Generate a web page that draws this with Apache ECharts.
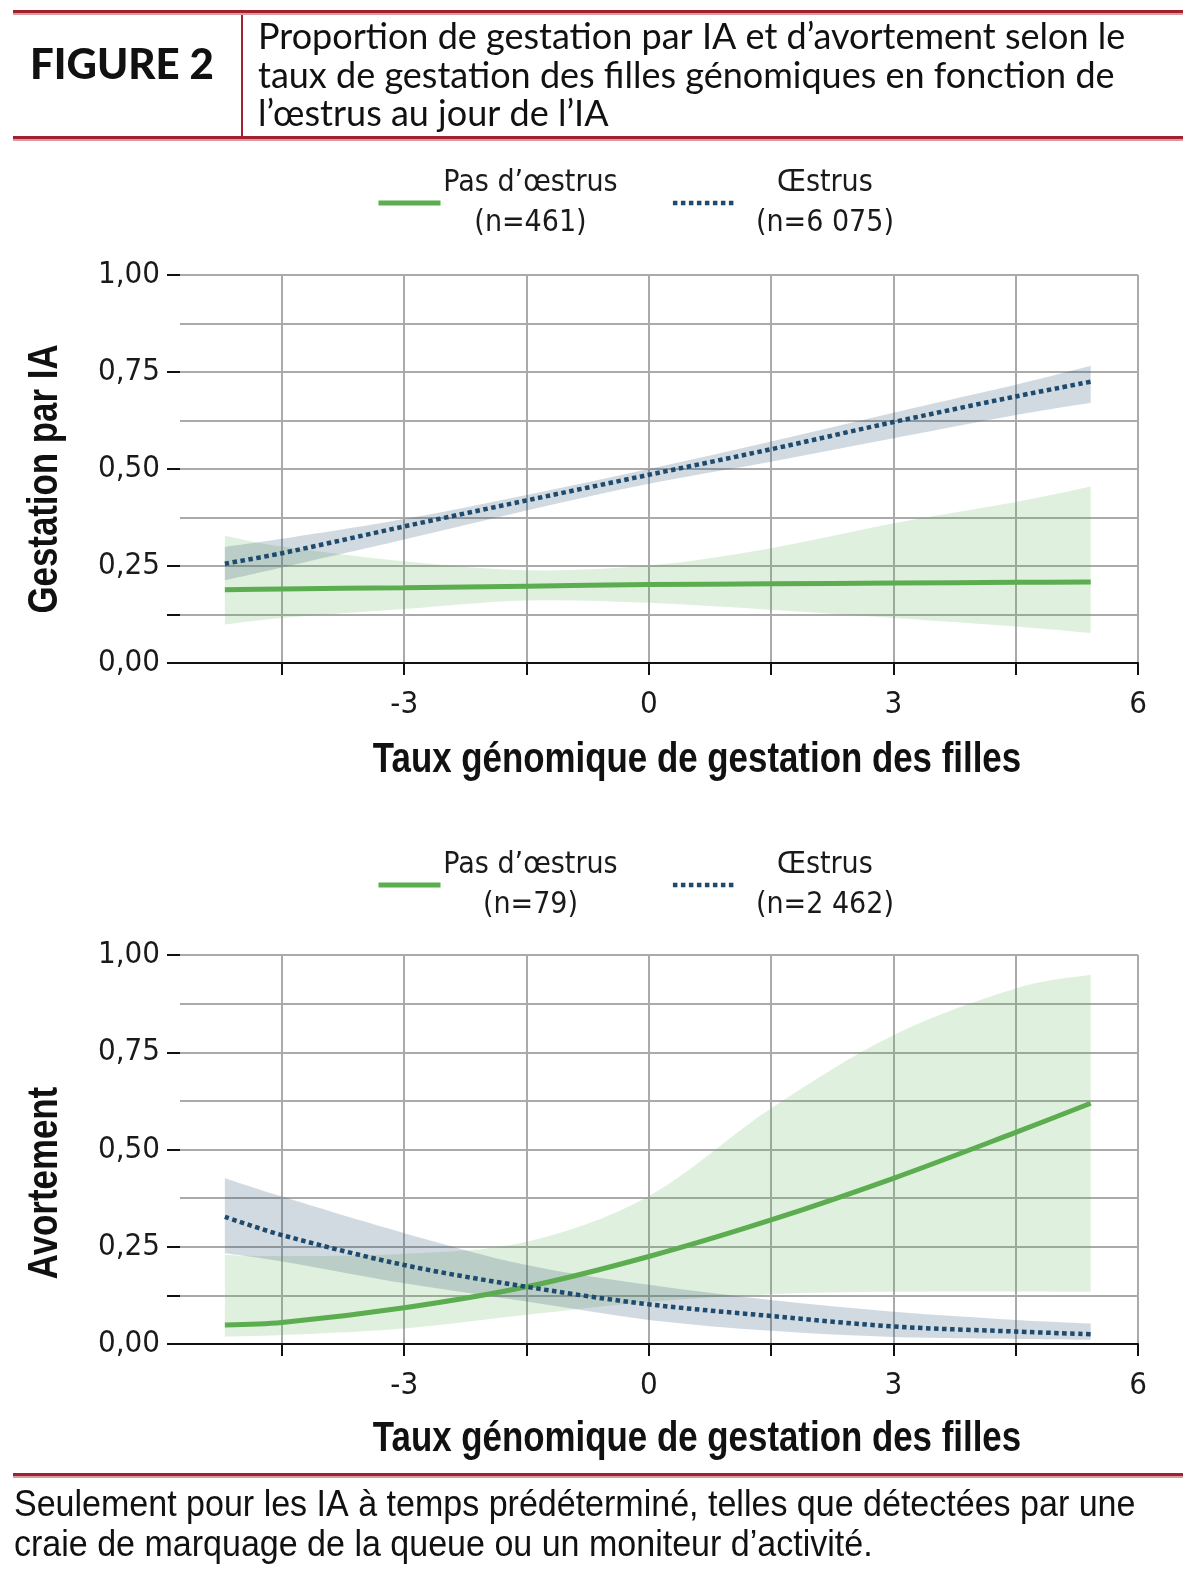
<!DOCTYPE html>
<html>
<head>
<meta charset="utf-8">
<script src="https://cdn.jsdelivr.net/npm/echarts@6/dist/echarts.min.js"></script>
<style>
  html, body { margin: 0; padding: 0; background: #fff; }
  #chart { width: 1200px; height: 1575px; }
</style>
</head>
<body>
<div id="chart"></div>
<script>
// --- donnees ---
var xTicks = [-4.5, -3, -1.5, 0, 1.5, 3, 4.5, 6];
var xLabels = [-3, 0, 3, 6];
var yTicks = [0, 0.125, 0.25, 0.5, 0.75, 1];
var yLabels = [0, 0.25, 0.5, 0.75, 1];

// Gestation par IA
var xsTop = [-5.2, -4.5, -3, -1.5, 0, 1.5, 3, 4.5, 5.42];
var pasOestrusTop = [0.189, 0.191, 0.194, 0.198, 0.202, 0.204, 0.206, 0.208, 0.209];
var pasOestrusTopLo = [0.099, 0.116, 0.139, 0.161, 0.155, 0.137, 0.116, 0.094, 0.077];
var pasOestrusTopHi = [0.328, 0.300, 0.262, 0.239, 0.251, 0.296, 0.360, 0.415, 0.455];
var oestrusTop = [0.256, 0.283, 0.352, 0.419, 0.485, 0.551, 0.621, 0.687, 0.725];
var oestrusTopLo = [0.213, 0.246, 0.318, 0.393, 0.462, 0.519, 0.579, 0.639, 0.671];
var oestrusTopHi = [0.299, 0.320, 0.371, 0.433, 0.500, 0.571, 0.645, 0.717, 0.766];

// Avortement
var xsBot = [-5.2, -4.5, -3, -1.5, 0, 1.5, 3, 4.5, 5.42];
var pasOestrusBot = [0.049, 0.055, 0.093, 0.147, 0.225, 0.319, 0.426, 0.544, 0.619];
var pasOestrusBotLo = [0.019, 0.023, 0.040, 0.075, 0.108, 0.128, 0.134, 0.135, 0.134];
var pasOestrusBotHi = [0.229, 0.226, 0.232, 0.263, 0.380, 0.606, 0.794, 0.914, 0.949];
var oestrusBot = [0.327, 0.280, 0.203, 0.147, 0.102, 0.072, 0.045, 0.032, 0.025];
var oestrusBotLo = [0.233, 0.212, 0.156, 0.109, 0.062, 0.034, 0.018, 0.013, 0.011];
var oestrusBotHi = [0.426, 0.379, 0.285, 0.203, 0.152, 0.113, 0.083, 0.062, 0.053];

var namesTop = ['Pas d’œstrus (n=461)', 'Œstrus (n=6 075)'];
var namesBot = ['Pas d’œstrus (n=79)', 'Œstrus (n=2 462)'];

var COND = '"DejaVu Sans Condensed", "Liberation Sans", sans-serif';
var ARIAL = '"Liberation Sans", Arial, sans-serif';
var GREEN = '#5cad50';
var NAVY = '#1e4a6d';
var GRID = '#aaaaaa';
var GREEN_BAND = 'rgba(92,173,80,0.19)';
var NAVY_BAND = 'rgba(50,85,120,0.22)';
var DOTS = [4.5, 3.5];

function pts(xs, ys) {
  return xs.map(function (x, i) { return [x, ys[i]]; });
}

// courbe lissee (Catmull-Rom) passant par des points deja projetes
function curve(p, first) {
  var d = first ? 'M' + p[0][0] + ',' + p[0][1] : 'L' + p[0][0] + ',' + p[0][1];
  for (var i = 0; i < p.length - 1; i++) {
    var a = p[Math.max(i - 1, 0)], b = p[i], c = p[i + 1], e = p[Math.min(i + 2, p.length - 1)];
    d += 'C' + (b[0] + (c[0] - a[0]) / 6) + ',' + (b[1] + (c[1] - a[1]) / 6) + ' ' +
         (c[0] - (e[0] - b[0]) / 6) + ',' + (c[1] - (e[1] - b[1]) / 6) + ' ' + c[0] + ',' + c[1];
  }
  return d;
}

// bande de confiance : un seul trace ferme entre borne haute et borne basse
function band(name, xs, lo, hi, color, gi) {
  return {
    name: name, type: 'custom', xAxisIndex: gi, yAxisIndex: gi * 2, silent: true, z: 1,
    data: xs.map(function (x, i) { return [x, lo[i], hi[i]]; }),
    encode: { x: 0, y: [1, 2] },
    renderItem: function (params, api) {
      if (params.dataIndex !== 0) return null;
      var up = xs.map(function (x, i) { return api.coord([x, hi[i]]); });
      var dn = xs.map(function (x, i) { return api.coord([x, lo[i]]); }).reverse();
      return {
        type: 'path',
        shape: { pathData: curve(up, true) + curve(dn, false) + 'Z' },
        style: { fill: color }
      };
    }
  };
}

function lineSerie(name, xs, ys, gi, dotted) {
  return {
    name: name, type: 'line', xAxisIndex: gi, yAxisIndex: gi * 2,
    data: pts(xs, ys), symbol: 'none', smooth: 0.33, z: dotted ? 4 : 3,
    lineStyle: dotted
      ? { color: NAVY, width: 4.5, type: DOTS, cap: 'butt' }
      : { color: GREEN, width: 5 },
    itemStyle: { color: dotted ? NAVY : GREEN }
  };
}

function xAxisCfg(gi) {
  return {
    type: 'value', gridIndex: gi, min: -5.75, max: 6,
    axisLine: { show: true, onZero: false, lineStyle: { color: '#111', width: 2 } },
    axisTick: { show: true, customValues: xTicks, length: 12, lineStyle: { color: '#111', width: 2 } },
    axisLabel: { customValues: xLabels, margin: 26, fontSize: 31, color: '#1a1a1a', fontFamily: COND },
    splitLine: { show: true, lineStyle: { color: GRID, width: 2 } }
  };
}

function yAxesCfg(gi) {
  return [{
    type: 'value', gridIndex: gi, min: 0, max: 1, interval: 0.125,
    axisLine: { show: true, lineStyle: { color: GRID, width: 2 } },
    axisTick: { show: false }, axisLabel: { show: false },
    splitLine: { show: true, lineStyle: { color: GRID, width: 2 } }
  }, {
    type: 'value', gridIndex: gi, min: 0, max: 1, position: 'left',
    axisLine: { show: false },
    axisTick: { show: true, customValues: yTicks, length: 13, lineStyle: { color: '#111', width: 2 } },
    axisLabel: {
      customValues: yLabels, margin: 20, fontSize: 31, color: '#1a1a1a', fontFamily: COND,
      formatter: function (v) { return v.toFixed(2).replace('.', ','); }
    },
    splitLine: { show: false }
  }];
}

function legendCfg(top, names) {
  return {
    left: 376, top: top, padding: 0, itemGap: 53, itemWidth: 62, itemHeight: 14,
    selectedMode: false,
    data: [
      { name: names[0], lineStyle: { color: GREEN, width: 5 } },
      { name: names[1], lineStyle: { color: NAVY, width: 4.5, type: DOTS, cap: 'butt' } }
    ],
    itemStyle: { opacity: 0 },
    formatter: function (n) {
      var i = n.indexOf(' (');
      return '{a|' + n.slice(0, i) + '}\n{a|' + n.slice(i + 1) + '}';
    },
    textStyle: {
      rich: { a: { width: 170, align: 'center', fontSize: 30, lineHeight: 40, color: '#1a1a1a', fontFamily: COND } }
    }
  };
}

// textes etroits : Liberation Sans comprime horizontalement
function narrowText(text, x, y, size, bold, rot, align, sx) {
  return {
    type: 'text', x: x, y: y, scaleX: sx || 0.83, rotation: rot || 0,
    style: {
      text: text, x: 0, y: 0, textAlign: align || 'center', textVerticalAlign: 'middle',
      font: (bold ? 'bold ' : '') + size + 'px ' + ARIAL, fill: '#111'
    }
  };
}

var RED = '#a3202f';
var PINK = '#d79ca3';
var option = {
  animation: false,
  backgroundColor: '#fff',
  grid: [
    { left: 180, top: 275, width: 958, height: 388, containLabel: false, outerBoundsMode: 'none' },
    { left: 180, top: 955, width: 958, height: 389, containLabel: false, outerBoundsMode: 'none' }
  ],
  xAxis: [xAxisCfg(0), xAxisCfg(1)],
  yAxis: yAxesCfg(0).concat(yAxesCfg(1)),
  legend: [legendCfg(168, namesTop), legendCfg(850, namesBot)],
  series: [
    band('IC pas d’œstrus (gestation)', xsTop, pasOestrusTopLo, pasOestrusTopHi, GREEN_BAND, 0),
    band('IC œstrus (gestation)', xsTop, oestrusTopLo, oestrusTopHi, NAVY_BAND, 0),
    lineSerie(namesTop[0], xsTop, pasOestrusTop, 0, false),
    lineSerie(namesTop[1], xsTop, oestrusTop, 0, true),
    band('IC pas d’œstrus (avortement)', xsBot, pasOestrusBotLo, pasOestrusBotHi, GREEN_BAND, 1),
    band('IC œstrus (avortement)', xsBot, oestrusBotLo, oestrusBotHi, NAVY_BAND, 1),
    lineSerie(namesBot[0], xsBot, pasOestrusBot, 1, false),
    lineSerie(namesBot[1], xsBot, oestrusBot, 1, true)
  ],
  graphic: [
    // entete
    { type: 'rect', shape: { x: 13, y: 10, width: 1170, height: 3 }, style: { fill: RED } },
    { type: 'rect', shape: { x: 13, y: 13, width: 1170, height: 2 }, style: { fill: PINK } },
    { type: 'rect', shape: { x: 241, y: 15, width: 2, height: 121 }, style: { fill: RED } },
    { type: 'rect', shape: { x: 13, y: 136, width: 1170, height: 3 }, style: { fill: RED } },
    { type: 'rect', shape: { x: 13, y: 139, width: 1170, height: 2 }, style: { fill: PINK } },
    { type: 'text', style: { text: 'FIGURE 2', x: 122, y: 65, textAlign: 'center', textVerticalAlign: 'middle',
        font: '900 42px Lato, Roboto, sans-serif', fill: '#111' } },
    { type: 'text', style: { text: 'Proportion de gestation par IA et d’avortement selon le\ntaux de gestation des filles génomiques en fonction de\nl’œstrus au jour de l’IA',
        x: 258, y: 18, lineHeight: 38.7, font: '36px Lato, Roboto, sans-serif', fill: '#111' } },
    // titres d'axes
    narrowText('Taux génomique de gestation des filles', 697, 760, 42, true),
    narrowText('Taux génomique de gestation des filles', 697, 1439, 42, true),
    narrowText('Gestation par IA', 45, 479, 42, true, Math.PI / 2),
    narrowText('Avortement', 45, 1183, 42, true, Math.PI / 2),
    // pied
    { type: 'rect', shape: { x: 13, y: 1473, width: 1170, height: 3 }, style: { fill: RED } },
    { type: 'rect', shape: { x: 13, y: 1476, width: 1170, height: 2 }, style: { fill: PINK } },
    narrowText('Seulement pour les IA à temps prédéterminé, telles que détectées par une', 14, 1506, 36, false, 0, 'left', 0.945),
    narrowText('craie de marquage de la queue ou un moniteur d’activité.', 14, 1546, 36, false, 0, 'left', 0.945)
  ]
};

var chart = echarts.init(document.getElementById('chart'), null, { renderer: 'canvas' });
chart.setOption(option);
</script>
</body>
</html>
